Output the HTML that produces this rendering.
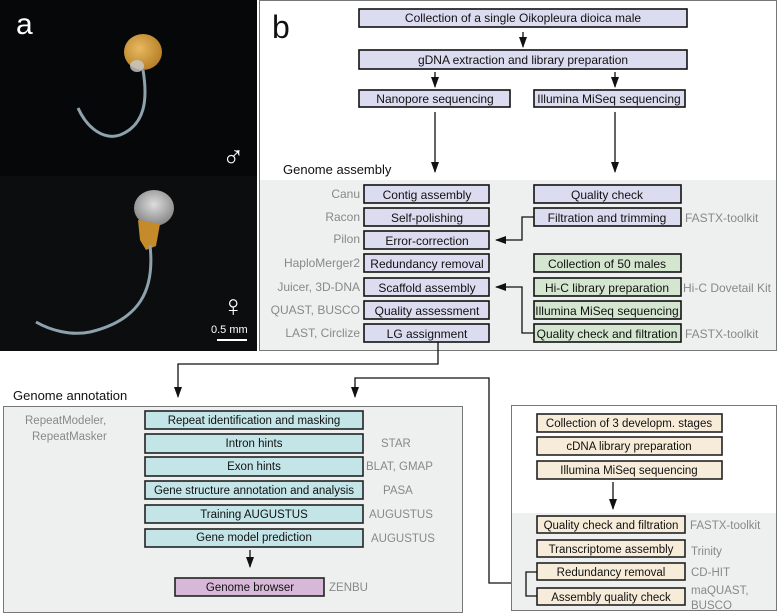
<!DOCTYPE html>
<html><head><meta charset="utf-8"><style>
html,body{margin:0;padding:0;background:#fff}
svg{display:block}
text{font-family:"Liberation Sans",sans-serif}
.b{font-size:12px;fill:#111;text-anchor:middle}
.g{font-size:12px;fill:#888}
.k{stroke:#111;stroke-width:1.3;fill:none}
</style></head><body>
<svg width="778" height="613" viewBox="0 0 778 613" xmlns="http://www.w3.org/2000/svg">
<defs><marker id="a" markerWidth="11" markerHeight="8" refX="10" refY="4" orient="auto" markerUnits="userSpaceOnUse"><path d="M0,0 L11,4 L0,8 z" fill="#111"/></marker>
<radialGradient id="gold" cx="0.4" cy="0.4" r="0.7"><stop offset="0" stop-color="#e8b860"/><stop offset="1" stop-color="#b07a20"/></radialGradient>
<radialGradient id="silv" cx="0.5" cy="0.4" r="0.7"><stop offset="0" stop-color="#ddd"/><stop offset="1" stop-color="#777"/></radialGradient></defs>

<!-- panel a -->
<rect x="0" y="0" width="257" height="351" fill="#060708"/>
<rect x="0" y="176" width="257" height="175" fill="#0b0d0e"/>
<text x="16" y="34" font-size="30" fill="#fff">a</text>
<ellipse cx="143" cy="52" rx="19" ry="18" fill="url(#gold)"/>
<ellipse cx="137" cy="66" rx="7" ry="6" fill="#c8ccd0" opacity="0.8"/>
<path d="M143,70 C148,100 145,125 120,135 C105,140 88,130 78,108" stroke="#8ea2ae" stroke-width="3" fill="none"/>
<ellipse cx="154" cy="208" rx="20" ry="18" fill="url(#silv)"/>
<path d="M138,220 L160,224 L156,246 L146,250 L140,240 z" fill="#c58a2a"/>
<path d="M150,245 C155,290 140,320 90,332 C70,336 50,330 36,322" stroke="#8ea2ae" stroke-width="3" fill="none"/>
<text x="222" y="167" font-size="30" fill="#fff">♂</text>
<text x="222" y="316" font-size="30" fill="#fff">♀</text>
<text x="211" y="333" font-size="11" fill="#fff">0.5 mm</text>
<line x1="217" y1="340" x2="247" y2="340" stroke="#fff" stroke-width="2"/>

<!-- panel b -->
<rect x="259.5" y="0.5" width="517" height="350" fill="#fff" stroke="#777"/>
<rect x="260" y="180" width="516" height="170" fill="#eef0ef"/>
<text x="272" y="38" font-size="32" fill="#111">b</text>
<g fill="#dcdcf0" stroke="#111" stroke-width="1.6">
<rect x="359" y="9" width="328" height="18"/><rect x="359" y="50" width="328" height="19"/>
<rect x="359" y="90" width="151" height="17"/><rect x="534" y="90" width="151" height="17"/>
<rect x="364" y="185" width="125" height="18"/><rect x="364" y="208" width="125" height="18"/>
<rect x="364" y="231" width="125" height="18"/><rect x="364" y="254" width="125" height="18"/>
<rect x="364" y="278" width="125" height="18"/><rect x="364" y="301" width="125" height="18"/>
<rect x="364" y="324" width="125" height="18"/>
<rect x="534" y="185" width="147" height="18"/><rect x="534" y="208" width="147" height="18"/>
</g>
<g fill="#d5e6d0" stroke="#111" stroke-width="1.6">
<rect x="534" y="254" width="147" height="18"/><rect x="534" y="278" width="147" height="18"/>
<rect x="534" y="301" width="147" height="18"/><rect x="534" y="324" width="147" height="18"/>
</g>
<g class="b">
<text x="523" y="22">Collection of a single Oikopleura dioica male</text>
<text x="523" y="64">gDNA extraction and library preparation</text>
<text x="435" y="103">Nanopore sequencing</text>
<text x="609" y="103">Illumina MiSeq sequencing</text>
<text x="427" y="199">Contig assembly</text><text x="427" y="222">Self-polishing</text>
<text x="427" y="245">Error-correction</text><text x="427" y="268">Redundancy removal</text>
<text x="427" y="292">Scaffold assembly</text><text x="427" y="315">Quality assessment</text>
<text x="427" y="338">LG assignment</text>
<text x="607" y="199">Quality check</text><text x="607" y="222">Filtration and trimming</text>
<text x="607" y="268">Collection of 50 males</text><text x="607" y="292">Hi-C library preparation</text>
<text x="607" y="315">Illumina MiSeq sequencing</text><text x="607" y="338">Quality check and filtration</text>
</g>
<g class="g" text-anchor="end">
<text x="360" y="198">Canu</text><text x="360" y="221">Racon</text><text x="360" y="243">Pilon</text>
<text x="360" y="267">HaploMerger2</text><text x="360" y="291">Juicer, 3D-DNA</text>
<text x="360" y="314">QUAST, BUSCO</text><text x="360" y="337">LAST, Circlize</text>
</g>
<g class="g"><text x="685" y="222">FASTX-toolkit</text><text x="683" y="292">Hi-C Dovetail Kit</text><text x="685" y="338">FASTX-toolkit</text></g>
<text x="283" y="174" font-size="13" fill="#111">Genome assembly</text>
<g class="k">
<line x1="523" y1="32" x2="523" y2="47" marker-end="url(#a)"/>
<line x1="435" y1="72" x2="435" y2="87" marker-end="url(#a)"/>
<line x1="615" y1="72" x2="615" y2="87" marker-end="url(#a)"/>
<line x1="435" y1="112" x2="435" y2="172" marker-end="url(#a)"/>
<line x1="615" y1="112" x2="615" y2="172" marker-end="url(#a)"/>
<polyline points="534,217 522,217 522,240 496,240" marker-end="url(#a)"/>
<polyline points="534,333 522,333 522,287 496,287" marker-end="url(#a)"/>
<polyline points="438,342 438,364 178,364 178,397" marker-end="url(#a)"/>
<polyline points="526,583 489,583 489,378 355,378 355,397" marker-end="url(#a)"/>
</g>

<!-- annotation -->
<text x="13" y="400" font-size="13" fill="#111">Genome annotation</text>
<rect x="3.5" y="406.5" width="459" height="206" fill="#eef0ef" stroke="#777"/>
<g fill="#c4e5e8" stroke="#222" stroke-width="1.6">
<rect x="145" y="411" width="218" height="18"/><rect x="145" y="434" width="218" height="19"/>
<rect x="145" y="457" width="218" height="19"/><rect x="145" y="481" width="218" height="18"/>
<rect x="145" y="505" width="218" height="18"/><rect x="145" y="529" width="218" height="18"/>
</g>
<rect x="175" y="578" width="149" height="18" fill="#d8b8d8" stroke="#222" stroke-width="1.6"/>
<g class="b" style="font-size:11.5px">
<text x="254" y="424">Repeat identification and masking</text><text x="254" y="447">Intron hints</text>
<text x="254" y="470">Exon hints</text><text x="254" y="494">Gene structure annotation and analysis</text>
<text x="254" y="518">Training AUGUSTUS</text><text x="254" y="541">Gene model prediction</text>
<text x="250" y="591">Genome browser</text>
</g>
<g class="g" style="font-size:11.5px">
<text x="381" y="447">STAR</text><text x="366" y="470">BLAT, GMAP</text><text x="383" y="494">PASA</text>
<text x="369" y="518">AUGUSTUS</text><text x="371" y="542">AUGUSTUS</text><text x="329" y="591">ZENBU</text>
<text x="25" y="424">RepeatModeler,</text><text x="32" y="440">RepeatMasker</text>
</g>
<line x1="250" y1="550" x2="250" y2="567" class="k" marker-end="url(#a)"/>

<!-- transcriptome -->
<rect x="511.5" y="405.5" width="265" height="205" fill="#fff" stroke="#777"/>
<rect x="512" y="513" width="264" height="97" fill="#eef0ef"/>
<g fill="#f7ecd9" stroke="#222" stroke-width="1.6">
<rect x="537" y="414" width="185" height="18"/><rect x="537" y="437" width="185" height="18"/>
<rect x="537" y="461" width="185" height="18"/>
<rect x="537" y="516" width="148" height="17"/><rect x="537" y="540" width="148" height="17"/>
<rect x="537" y="563" width="148" height="17"/><rect x="537" y="588" width="148" height="17"/>
</g>
<g class="b" style="font-size:11.5px">
<text x="629" y="427">Collection of 3 developm. stages</text><text x="629" y="450">cDNA library preparation</text>
<text x="629" y="474">Illumina MiSeq sequencing</text>
<text x="611" y="529">Quality check and filtration</text><text x="611" y="553">Transcriptome assembly</text>
<text x="611" y="576">Redundancy removal</text><text x="611" y="601">Assembly quality check</text>
</g>
<g class="g" style="font-size:11.5px">
<text x="690" y="529">FASTX-toolkit</text><text x="691" y="555">Trinity</text><text x="691" y="576">CD-HIT</text>
<text x="691" y="594">maQUAST,</text><text x="691" y="609">BUSCO</text>
</g>
<line x1="613" y1="482" x2="613" y2="509" class="k" marker-end="url(#a)"/>
<polyline points="537,572 526,572 526,596 537,596" class="k"/>
</svg>
</body></html>
